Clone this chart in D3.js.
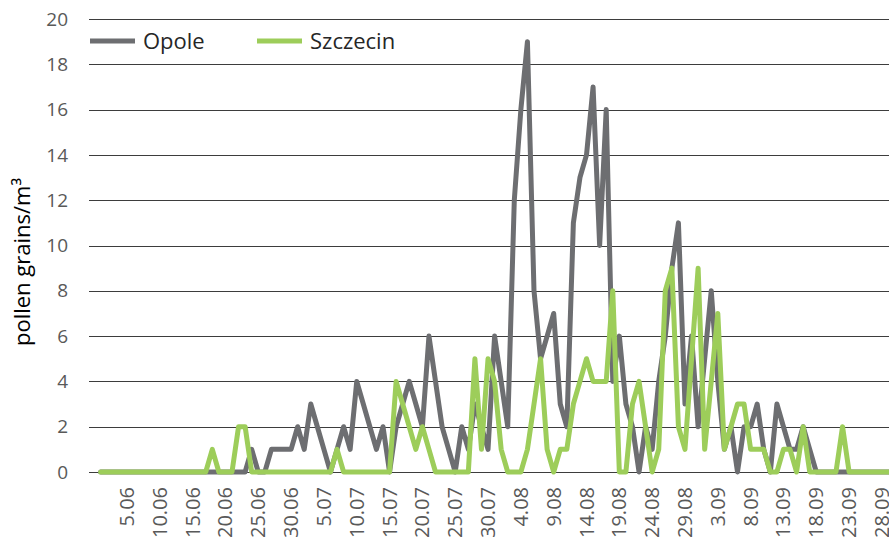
<!DOCTYPE html>
<html>
<head>
<meta charset="utf-8">
<script src="https://cdn.jsdelivr.net/npm/d3@7"></script>
<style>
  body { margin: 0; background: #fff; }
  text { font-family: "Open Sans", sans-serif; }
</style>
</head>
<body>
<div id="chart"></div>
<script>
// daily categories 1.06 - 30.09
const months = [["06", 30], ["07", 31], ["08", 31], ["09", 30]];
const categories = [];
months.forEach(([m, n]) => {
	for (let d = 1; d <= n; d++) categories.push(d + "." + m);
});

const tickLabels = ["5.06", "10.06", "15.06", "20.06", "25.06", "30.06", "5.07", "10.07",
	"15.07", "20.07", "25.07", "30.07", "4.08", "9.08", "14.08", "19.08", "24.08", "29.08",
	"3.09", "8.09", "13.09", "18.09", "23.09", "28.09"];

const yTicks = [0, 2, 4, 6, 8, 10, 12, 14, 16, 18, 20];

const opole = [
	0, 0, 0, 0, 0, 0, 0, 0, 0, 0,
	0, 0, 0, 0, 0, 0, 0, 0, 0, 0,
	0, 0, 0, 1, 0, 0, 1, 1, 1, 1,
	2, 1, 3, 2, 1, 0, 1, 2, 1, 4,
	3, 2, 1, 2, 0, 2, 3, 4, 3, 2,
	6, 4, 2, 1, 0, 2, 1, 3, 2, 1,
	6, 4, 2, 12, 16, 19, 8, 5, 6, 7,
	3, 2, 11, 13, 14, 17, 10, 16, 4, 6,
	3, 2, 0, 2, 1, 4, 6, 9, 11, 3,
	6, 2, 5, 8, 4, 1, 2, 0, 2, 2,
	3, 1, 0, 3, 2, 1, 1, 2, 1, 0,
	0, 0, 0, 0, 0, 0, 0, 0, 0, 0,
	0, 0
];

const szczecin = [
	0, 0, 0, 0, 0, 0, 0, 0, 0, 0,
	0, 0, 0, 0, 0, 0, 0, 1, 0, 0,
	0, 2, 2, 0, 0, 0, 0, 0, 0, 0,
	0, 0, 0, 0, 0, 0, 1, 0, 0, 0,
	0, 0, 0, 0, 0, 4, 3, 2, 1, 2,
	1, 0, 0, 0, 0, 0, 0, 5, 1, 5,
	4, 1, 0, 0, 0, 1, 3, 5, 1, 0,
	1, 1, 3, 4, 5, 4, 4, 4, 8, 0,
	0, 3, 4, 2, 0, 1, 8, 9, 2, 1,
	5, 9, 1, 4, 7, 1, 2, 3, 3, 1,
	1, 1, 0, 0, 1, 1, 0, 2, 0, 0,
	0, 0, 0, 2, 0, 0, 0, 0, 0, 0,
	0, 0
];

const series = [
	{ name: "Opole", values: opole, color: "#6d6e71" },
	{ name: "Szczecin", values: szczecin, color: "#9dcd5a" }
];

const width = 889, height = 545;
const gridLeft = 89, gridRight = 889;

const svg = d3.select("#chart").append("svg")
	.attr("width", width)
	.attr("height", height);

const x = d3.scalePoint()
	.domain(categories)
	.range([100.7, 100.7 + 6.565 * (categories.length - 1)]);

const y = d3.scaleLinear()
	.domain([0, 20])
	.range([472, 19]);

// gridlines
svg.append("g")
	.selectAll("line")
	.data(yTicks)
	.enter().append("line")
	.attr("x1", gridLeft)
	.attr("x2", gridRight)
	.attr("y1", d => Math.round(y(d)) + 0.5)
	.attr("y2", d => Math.round(y(d)) + 0.5)
	.attr("stroke", "#3d3d3d")
	.attr("stroke-width", 1);

// y labels
svg.append("g")
	.selectAll("text")
	.data(yTicks)
	.enter().append("text")
	.attr("x", 68)
	.attr("y", d => y(d))
	.attr("dy", "0.35em")
	.attr("text-anchor", "end")
	.attr("fill", "#595959")
	.attr("font-size", 19)
	.text(d => d);

// x labels
svg.append("g")
	.selectAll("text")
	.data(tickLabels)
	.enter().append("text")
	.attr("transform", d => `translate(${x(d)},487) rotate(-90)`)
	.attr("dy", "0.35em")
	.attr("text-anchor", "end")
	.attr("fill", "#595959")
	.attr("font-size", 20)
	.text(d => d);

// y title
svg.append("text")
	.attr("transform", "translate(22,262) rotate(-90)")
	.attr("dy", "0.35em")
	.attr("text-anchor", "middle")
	.attr("fill", "#000")
	.attr("font-size", 22)
	.text("pollen grains/m³");

// lines
const line = d3.line()
	.x((d, i) => x(categories[i]))
	.y(d => y(d));

svg.append("g")
	.selectAll("path")
	.data(series)
	.enter().append("path")
	.attr("d", d => line(d.values))
	.attr("fill", "none")
	.attr("stroke", d => d.color)
	.attr("stroke-width", 5)
	.attr("stroke-linejoin", "round")
	.attr("stroke-linecap", "round");

// legend
const legendX = [90, 257];
const legend = svg.append("g")
	.selectAll("g")
	.data(series)
	.enter().append("g")
	.attr("transform", (d, i) => `translate(${legendX[i]},41)`);

legend.append("line")
	.attr("x1", 0)
	.attr("x2", 45)
	.attr("stroke", d => d.color)
	.attr("stroke-width", 5);

legend.append("text")
	.attr("x", 53)
	.attr("dy", "0.35em")
	.attr("fill", "#262626")
	.attr("font-size", 22)
	.text(d => d.name);
</script>
</body>
</html>
